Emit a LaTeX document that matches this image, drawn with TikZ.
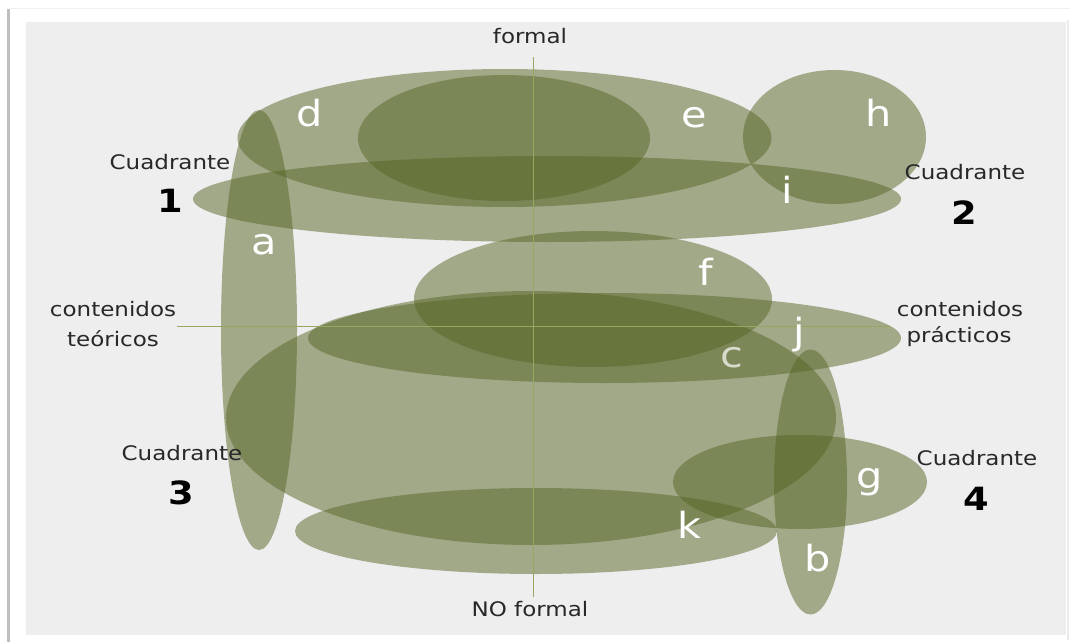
\documentclass[tikz,border=0pt]{standalone}
\usepackage{fontspec}
\setmainfont{DejaVu Sans}[FakeStretch=1.15]
\definecolor{olive}{RGB}{86,102,38}
\definecolor{panel}{RGB}{238,238,238}
\definecolor{axisgreen}{RGB}{150,168,96}
\definecolor{labelgray}{RGB}{40,40,40}
\tikzset{
  blob/.style={fill=olive, fill opacity=0.5},
  letter/.style={text=white, font=\fontsize{36}{40}\selectfont, inner sep=0pt},
  axislbl/.style={font=\fontsize{20}{24}\selectfont, text=labelgray, inner sep=0pt},
  quadnum/.style={font=\bfseries\fontsize{32}{36}\selectfont, text=black, inner sep=0pt},
  axisline/.style={draw=axisgreen, line width=0.8pt},
}
\begin{document}
\begin{tikzpicture}[x=1pt,y=-1pt]
  \useasboundingbox (0,0) rectangle (1073,642);
  % page and panel
  \fill[white] (0,0) rectangle (1073,642);
  \fill[black!6] (9,8) rectangle (1070,9);
  \fill[black!25] (7,9) rectangle (10,642);
  \fill[black!8] (1067,20) rectangle (1069,640);
  \fill[panel] (26,22) rectangle (1066,635);

  % overlapping translucent regions
  \fill[blob] (259,330) ellipse [x radius=38, y radius=220];     % a
  \fill[blob] (810.5,482) ellipse [x radius=36.5, y radius=132.5]; % b
  \fill[blob] (531,418) ellipse [x radius=305, y radius=127];    % c
  \fill[blob] (504.5,138) ellipse [x radius=267, y radius=69];   % d/e outer
  \fill[blob] (504,138) ellipse [x radius=146, y radius=63];     % inner
  \fill[blob] (593,299) ellipse [x radius=179, y radius=68];     % f
  \fill[blob] (800,482) ellipse [x radius=127, y radius=47];     % g
  \fill[blob] (834.5,137) ellipse [x radius=91.5, y radius=67];  % h
  \fill[blob] (547,199) ellipse [x radius=354, y radius=43];     % i
  \fill[blob] (604.5,338) ellipse [x radius=296.5, y radius=45]; % j
  \fill[blob] (536,531) ellipse [x radius=241, y radius=43];     % k

  % axes
  \coordinate (top) at (533,57);
  \coordinate (bottom) at (533,597);
  \coordinate (left) at (177,326);
  \coordinate (right) at (890,326);
  \draw[axisline] (top) -- (bottom);
  \draw[axisline] (left) -- (right);

  % axis labels
  \node[axislbl] (formal) at (530,36) {formal};
  \node[axislbl] (noformal) at (530,609) {NO formal};
  \node[axislbl] (teo1) at (113,309) {contenidos};
  \node[axislbl] (teo2) at (113,339) {teóricos};
  \node[axislbl] (pra1) at (960,309) {contenidos};
  \node[axislbl] (pra2) at (959,337) {prácticos};

  % quadrants
  \node[axislbl] (q1) at (170,162) {Cuadrante};
  \node[quadnum] (n1) at (170,201) {1};
  \node[axislbl] (q2) at (965,172) {Cuadrante};
  \node[quadnum] (n2) at (964,213) {2};
  \node[axislbl] (q3) at (182,453) {Cuadrante};
  \node[quadnum] (n3) at (181,493) {3};
  \node[axislbl] (q4) at (977,458) {Cuadrante};
  \node[quadnum] (n4) at (976,499) {4};

  % region letters
  \node[letter] (la) at (264,245) {a};
  \node[letter] (lb) at (818,558) {b};
  \node[letter, text opacity=0.7] (lc) at (732,358) {c};
  \node[letter] (ld) at (310,113) {d};
  \node[letter] (le) at (694,118) {e};
  \node[letter] (lf) at (706,272) {f};
  \node[letter] (lg) at (870,482) {g};
  \node[letter] (lh) at (879,113) {h};
  \node[letter] (li) at (787,190) {i};
  \node[letter] (lj) at (799,335) {j};
  \node[letter] (lk) at (689,525) {k};
\end{tikzpicture}
\end{document}
